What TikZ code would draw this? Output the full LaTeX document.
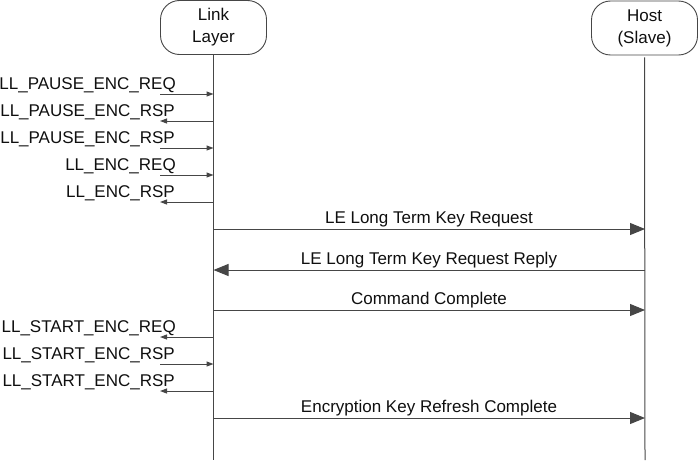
\documentclass[tikz,border=0pt]{standalone}
\usepackage{fontspec}
\setmainfont{Liberation Sans}
\definecolor{gray1}{RGB}{70, 70, 70}
\definecolor{ink1}{RGB}{15, 15, 15}
\usepackage{tikz}
\usetikzlibrary{arrows.meta, positioning}

\tikzset{
  lifebox/.style={draw=gray1, line width=0.9pt, rounded corners=19pt, minimum width=106pt, minimum height=54pt, align=center, inner sep=0pt, text=ink1, font=\fontsize{17}{22}\selectfont},
  lifeline/.style={draw=gray1, line width=1pt},
  shortmsg/.style={draw=gray1, line width=1pt, -{Triangle[length=7pt, width=5pt]}},
  longmsg/.style={draw=gray1, line width=1pt, -{Triangle[length=15pt, width=12pt]}},
  leftlabel/.style={inner sep=0pt, anchor=base east, text=ink1, font=\fontsize{17}{20}\selectfont},
  midlabel/.style={inner sep=0pt, anchor=base, text=ink1, font=\fontsize{17}{20}\selectfont}
}

\begin{document}
\begin{tikzpicture}[x=1pt, y=-1pt]
  \useasboundingbox (0,0) rectangle (700,460);

  % the two parties
  \node[lifebox] (ll) at (213.5,27.5) {Link\\Layer};
  \node[lifebox] (host) at (644.5,28) {Host\\(Slave)};
  \coordinate (llbot) at (213.5,460);
  \coordinate (hostbot) at (645,460);
  \draw[lifeline] (ll.south) -- (llbot);
  \draw[lifeline] ([yshift=-2pt]host.south) -- (hostbot);

  % points on the link layer lifeline
  \coordinate (a1) at (213.5,94);  \coordinate (e1) at (160,94);
  \coordinate (a2) at (213.5,121); \coordinate (e2) at (160,121);
  \coordinate (a3) at (213.5,148); \coordinate (e3) at (160,148);
  \coordinate (a4) at (213.5,175); \coordinate (e4) at (160,175);
  \coordinate (a5) at (213.5,202); \coordinate (e5) at (160,202);
  \coordinate (a6) at (213.5,229); \coordinate (h6) at (645,229);
  \coordinate (a7) at (213.5,270); \coordinate (h7) at (645,270);
  \coordinate (a8) at (213.5,310); \coordinate (h8) at (645,310);
  \coordinate (a9) at (213.5,337); \coordinate (e9) at (160,337);
  \coordinate (a10) at (213.5,364); \coordinate (e10) at (160,364);
  \coordinate (a11) at (213.5,391); \coordinate (e11) at (160,391);
  \coordinate (a12) at (213.5,418); \coordinate (h12) at (645,418);

  % pause / restart of encryption on the air
  \draw[shortmsg] (e1) -- (a1);
  \node[leftlabel] (t1) at (176,89) {LL\_PAUSE\_ENC\_REQ};
  \draw[shortmsg] (a2) -- (e2);
  \node[leftlabel] (t2) at (175,116) {LL\_PAUSE\_ENC\_RSP};
  \draw[shortmsg] (e3) -- (a3);
  \node[leftlabel] (t3) at (175,143) {LL\_PAUSE\_ENC\_RSP};
  \draw[shortmsg] (e4) -- (a4);
  \node[leftlabel] (t4) at (176,170) {LL\_ENC\_REQ};
  \draw[shortmsg] (a5) -- (e5);
  \node[leftlabel] (t5) at (175,197) {LL\_ENC\_RSP};

  % host interaction
  \draw[longmsg] (a6) -- (h6);
  \node[midlabel] (t6) at (429,223) {LE Long Term Key Request};
  \draw[longmsg] (h7) -- (a7);
  \node[midlabel] (t7) at (429,264) {LE Long Term Key Request Reply};
  \draw[longmsg] (a8) -- (h8);
  \node[midlabel] (t8) at (429,304) {Command Complete};

  \draw[shortmsg] (a9) -- (e9);
  \node[leftlabel] (t9) at (176,332) {LL\_START\_ENC\_REQ};
  \draw[shortmsg] (e10) -- (a10);
  \node[leftlabel] (t10) at (175,359) {LL\_START\_ENC\_RSP};
  \draw[shortmsg] (a11) -- (e11);
  \node[leftlabel] (t11) at (175,386) {LL\_START\_ENC\_RSP};

  \draw[longmsg] (a12) -- (h12);
  \node[midlabel] (t12) at (429,412) {Encryption Key Refresh Complete};
\end{tikzpicture}
\end{document}
